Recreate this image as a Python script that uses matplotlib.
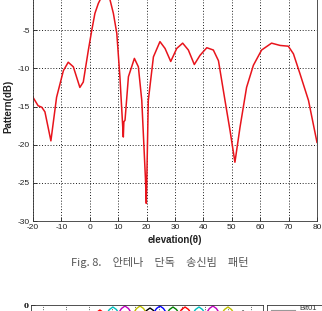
import matplotlib
matplotlib.use("Agg")
import matplotlib.pyplot as plt

# ====== Данные: диаграмма направленности (читано с картинки) ======
elev = [-20, -18.2, -16.9, -15.8, -13.7, -11.7, -9.3, -7.6, -5.8, -3.5, -2.3,
        -0.5, 0.7, 1.8, 3.0, 4.2, 5.5, 7.1, 8.3, 9.5, 10.6, 11.8, 12.0, 12.4,
        13.6, 15.7, 17.1, 18.3, 19.6, 19.9, 20.1, 20.6, 22.4, 24.7, 26.5, 28.5,
        30.6, 32.7, 34.7, 36.8, 38.8, 41.2, 43.5, 45.3, 47.6, 49.4, 51.1, 52.9,
        55.2, 57.6, 60.5, 64.0, 67.0, 69.9, 71.7, 74.0, 77.0, 80.0]
pattern = [-13.8, -14.9, -15.1, -15.7, -19.5, -13.8, -10.3, -9.2, -9.8, -12.5, -11.8,
           -7.6, -5.0, -2.8, -1.5, -0.6, -0.2, -1.0, -2.8, -5.4, -11.1, -19.0, -17.0, -16.8,
           -11.1, -8.7, -9.8, -14.2, -24.5, -27.7, -24.0, -14.2, -8.5, -6.5, -7.4, -9.1,
           -7.4, -6.7, -7.6, -9.5, -8.3, -7.3, -7.6, -9.0, -14.2, -18.2, -22.3, -17.7,
           -12.5, -9.6, -7.6, -6.7, -7.0, -7.1, -8.1, -10.7, -14.2, -19.7]

xticks = [-20, -10, 0, 10, 20, 30, 40, 50, 60, 70, 80]
yticks = [-30, -25, -20, -15, -10, -5, 0]
ytick_labels = ['-30', '-25', '-20', '-15', '-10', '-5', '']

# ====== Нижний (обрезанный) рисунок: вершины лучей ======
beam_centers = [24.7, 30.3, 35.5, 42.0, 46.3, 50.6, 56.2, 61.4, 67.4, 73.4, 79.9, 86.4]
beam_peaks = [-0.5, -0.2, -0.1, -0.1, -0.3, -0.1, -0.2, -0.2, -0.2, -0.1, -0.2, -0.6]
beam_colors = ['r', 'c', 'm', 'y', 'k', 'b', 'g', 'r', 'c', 'm', 'y', 'k']
beam_offsets = [-3.5, -2.5, -1.5, 0, 1.5, 2.5, 3.5]
beam_drop = [-1.5, -0.6, -0.25, 0.0, -0.25, -0.6, -1.5]

W, H = 322, 311
plt.rcParams['font.family'] = ['Liberation Sans', 'DejaVu Sans']
plt.rcParams['axes.unicode_minus'] = False
fig = plt.figure(figsize=(W / 100, H / 100), dpi=100)

# ====== Основной график ======
ax = fig.add_axes([33 / W, (H - 221) / H, 284 / W, 229 / H])
ax.plot(elev, pattern, color='#e8141c', lw=1.1)
ax.set_xlim(-20, 80)
ax.set_ylim(-30, 0)
ax.set_xticks(xticks)
ax.set_yticks(yticks)
ax.set_yticklabels(ytick_labels)
ax.grid(True, color='k', linestyle=(0, (1.2, 2.2)), lw=0.6)
ax.tick_params(direction='in', length=3, width=0.6, labelsize=6, colors='#222', pad=2)
for s in ax.spines.values():
    s.set_linewidth(0.6)
    s.set_color('#333')

ax.set_xlabel('elevation(θ)', fontsize=7, fontweight='bold', color='#222')
ax.xaxis.set_label_coords(0.5, -0.083)
ax.xaxis.label.set_va('center')
ax.set_ylabel('Pattern(dB)', fontsize=7, fontweight='bold', color='#222')
ax.yaxis.set_label_coords(-0.088, 0.5)
ax.yaxis.label.set_va('center')

fig.text(160 / W, 1 - 262 / H, 'Fig. 8.\u3000안테나\u3000단독\u3000송신빔\u3000패턴',
         ha='center', va='center', fontsize=8, color='#555',
         family=['Noto Sans CJK KR', 'DejaVu Sans'])

# ====== Нижний рисунок (виден только верх) ======
ax2 = fig.add_axes([31 / W, (H - 305 - 100) / H, 232 / W, 100 / H])
for c, p, col in zip(beam_centers, beam_peaks, beam_colors):
    xs = [c + o for o in beam_offsets]
    ys = [p + d for d in beam_drop]
    ax2.plot(xs, ys, color=col, lw=1.0)
ax2.set_xlim(-5, 95)
ax2.set_ylim(-10, 0)
ax2.set_xticks(range(0, 100, 10))
ax2.set_xticklabels([])
ax2.set_yticks([0])
ax2.set_yticklabels(['0'], fontsize=5, fontweight='bold', family='DejaVu Serif')
ax2.grid(True, axis='x', color='k', linestyle=(0, (1.2, 2.2)), lw=0.5)
ax2.tick_params(direction='in', length=3, width=0.5, pad=2)
for s in ax2.spines.values():
    s.set_linewidth(0.6)
    s.set_color('#333')

# легенда справа (обрезана)
ax3 = fig.add_axes([267 / W, (H - 305 - 60) / H, 70 / W, 60 / H])
ax3.set_xlim(0, 70)
ax3.set_ylim(-60, 0)
ax3.plot([4, 28], [-5, -5], color='#999', lw=0.8)
ax3.text(32, -4, 'Bit01', fontsize=5.5, va='center', color='#333')
ax3.set_xticks([])
ax3.set_yticks([])
for s in ax3.spines.values():
    s.set_linewidth(0.6)
    s.set_color('#333')

fig.savefig('out.png', dpi=100)
